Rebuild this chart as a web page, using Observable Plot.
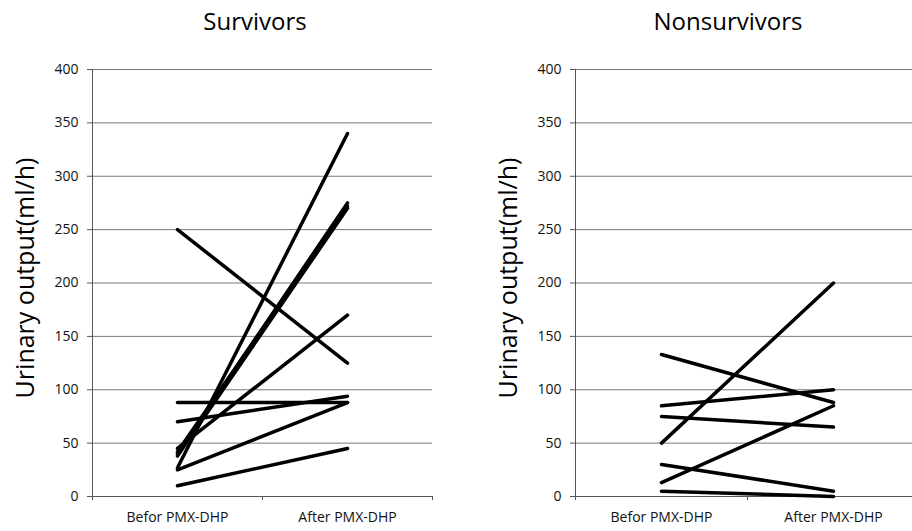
<!DOCTYPE html>
<html>
<head>
<meta charset="utf-8">
<script src="https://cdn.jsdelivr.net/npm/d3@7"></script>
<script src="https://cdn.jsdelivr.net/npm/@observablehq/plot@0.6"></script>
<style>
  html, body { margin: 0; padding: 0; background: #fff; overflow: hidden; }
  #wrap { position: relative; width: 912px; height: 531px; overflow: hidden; font-family: "Open Sans", sans-serif; color: #000; }
  .panel { position: absolute; top: 0; }
  .title { position: absolute; top: 5px; font-size: 24px; white-space: nowrap; transform: translateX(-50%); line-height: 32px; }
  .ylab { position: absolute; font-size: 25px; white-space: nowrap; transform: translate(-50%, -50%) rotate(-90deg); line-height: 28px; }
</style>
</head>
<body>
<div id="wrap"></div>
<script>
// ---- data ----
const categories = ["Befor PMX-DHP", "After PMX-DHP"];
const survivorsBefore = [250, 88, 70, 10, 25, 27, 40, 42, 38, 45];
const survivorsAfter  = [125, 88, 94, 45, 88, 340, 275, 272, 270, 170];
const nonsurvivorsBefore = [133, 85, 75, 50, 30, 13, 5];
const nonsurvivorsAfter  = [88, 100, 65, 200, 5, 85, 0];
const yTicks = [0, 50, 100, 150, 200, 250, 300, 350, 400];
const panelTitles = ["Survivors", "Nonsurvivors"];
const yLabel = "Urinary output(ml/h)";

function rows(before, after) {
  const out = [];
  before.forEach((v, i) => {
    out.push({ id: i, x: 0.5, y: v });
    out.push({ id: i, x: 1.5, y: after[i] });
  });
  return out;
}

function panel(data, opts) {
  return Plot.plot({
    width: opts.width,
    height: 531,
    marginLeft: opts.marginLeft,
    marginRight: opts.marginRight,
    marginTop: 69,
    marginBottom: 35,
    x: { domain: [0, 2] },
    y: { domain: [0, 400] },
    style: { fontFamily: "Open Sans", fontSize: "14px", color: "#111", background: "transparent", overflow: "visible" },
    marks: [
      Plot.gridY(yTicks, { stroke: "#7a7a7a", strokeOpacity: 1, strokeWidth: 1 }),
      Plot.ruleY([0], { stroke: "#555", strokeWidth: 1 }),
      Plot.ruleX([0], { stroke: "#555", strokeWidth: 1 }),
      Plot.axisY({ ticks: yTicks, tickSize: 5, tickPadding: 9, label: null, stroke: "#555", fill: "#111", fontSize: 14 }),
      Plot.axisX({ ticks: [0, 1, 2], tickSize: 4, tickFormat: () => "", label: null, stroke: "#555" }),
      Plot.axisX({ ticks: [0.5, 1.5], tickSize: 0, tickPadding: 16, tickFormat: d => categories[Math.round(d - 0.5)], label: null, fontSize: 14, fill: "#111" }),
      Plot.line(data, { x: "x", y: "y", z: "id", stroke: "#000", strokeWidth: 3.5, strokeLinecap: "round", strokeLinejoin: "round" })
    ]
  });
}

const wrap = document.getElementById("wrap");

const left = panel(rows(survivorsBefore, survivorsAfter), { width: 456, marginLeft: 92, marginRight: 24 });
left.classList.add("panel");
left.style.left = "0px";
wrap.appendChild(left);

const right = panel(rows(nonsurvivorsBefore, nonsurvivorsAfter), { width: 463, marginLeft: 119, marginRight: 0 });
right.classList.add("panel");
right.style.left = "456px";
wrap.appendChild(right);

const titlePos = [255, 728];
panelTitles.forEach((t, i) => {
  const d = document.createElement("div");
  d.className = "title";
  d.textContent = t;
  d.style.left = titlePos[i] + "px";
  wrap.appendChild(d);
});

const ylabPos = [24, 507];
ylabPos.forEach(x => {
  const d = document.createElement("div");
  d.className = "ylab";
  d.textContent = yLabel;
  d.style.left = x + "px";
  d.style.top = "278px";
  wrap.appendChild(d);
});
</script>
</body>
</html>
